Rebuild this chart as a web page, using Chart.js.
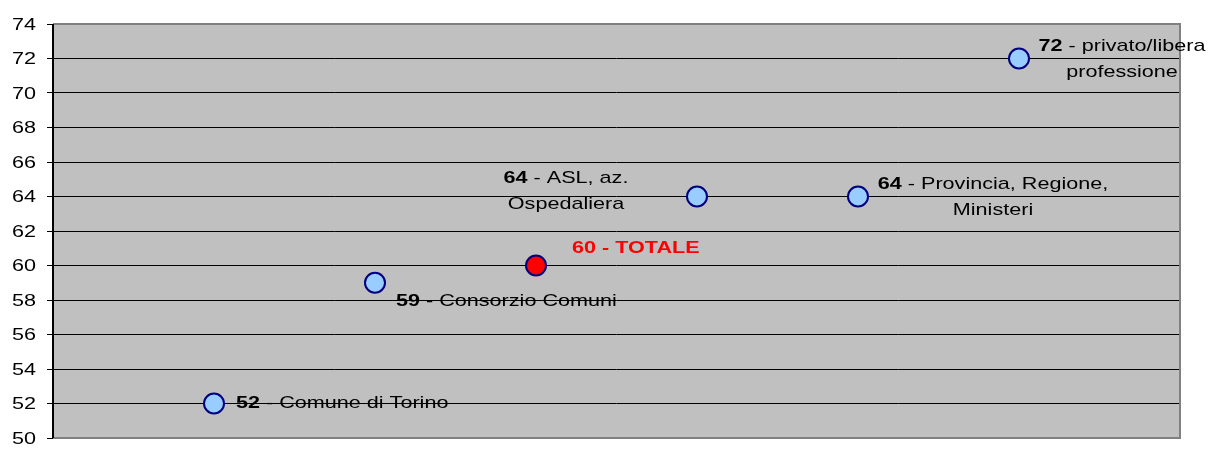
<!DOCTYPE html>
<html lang="it">
<head>
  <meta charset="UTF-8" />
  <title>Età media per ente</title>
  <script src="https://cdn.jsdelivr.net/npm/chart.js"></script>
  <style>
    html, body { margin: 0; padding: 0; background: #fff; }
  </style>
</head>
<body>
  <canvas id="ageChart" width="1208" height="450"></canvas>

  <script>
    // data
    const categories = [
      'Comune di Torino',
      'Consorzio Comuni',
      'TOTALE',
      'ASL, az.\nOspedaliera',
      'Provincia, Regione,\nMinisteri',
      'privato/libera\nprofessione'
    ];
    const values = [52, 59, 60, 64, 64, 72];
    const isTotal = [false, false, true, false, false, false];
    const yTicks = [50, 52, 54, 56, 58, 60, 62, 64, 66, 68, 70, 72, 74];

    // where each label sits relative to its point (px)
    const labelPlace = [
      { dx: 22, dy: 0, align: 'left' },
      { dx: 21, dy: 19, align: 'left' },
      { dx: 36, dy: -17, align: 'left' },
      { dx: -131, dy: -18, align: 'center' },
      { dx: 135, dy: -12, align: 'center' },
      { dx: 103, dy: -12, align: 'center' }
    ];

    const FONT = '"Liberation Sans", Arial, sans-serif';
    const SX = 1.27; // the original picture is stretched sideways

    // draw text stretched horizontally
    function wideText(ctx, text, x, y) {
      ctx.save();
      ctx.translate(x, y);
      ctx.scale(SX, 1);
      ctx.fillText(text, 0, 0);
      ctx.restore();
    }

    const plotFrame = {
      id: 'plotFrame',
      beforeDraw(chart) {
        const { ctx, chartArea: a } = chart;
        ctx.save();
        ctx.fillStyle = '#c0c0c0';
        ctx.fillRect(a.left, a.top, a.right - a.left, a.bottom - a.top);
        ctx.restore();
      },
      beforeDatasetsDraw(chart) {
        const { ctx, chartArea: a } = chart;
        ctx.save();
        ctx.strokeStyle = '#808080';
        ctx.lineWidth = 2;
        ctx.beginPath();
        ctx.moveTo(a.left, a.top);
        ctx.lineTo(a.right, a.top);
        ctx.lineTo(a.right, a.bottom);
        ctx.lineTo(a.left, a.bottom);
        ctx.stroke();
        ctx.strokeStyle = '#000';
        ctx.beginPath();
        ctx.moveTo(a.left, a.top);
        ctx.lineTo(a.left, a.bottom);
        ctx.stroke();

        // y tick labels, from the library's y scale
        const ys = chart.scales.y;
        ctx.fillStyle = '#000';
        ctx.font = '17px ' + FONT;
        ctx.textBaseline = 'middle';
        ctx.textAlign = 'left';
        ys.ticks.forEach(t => {
          const label = String(t.value);
          const w = ctx.measureText(label).width * SX;
          wideText(ctx, label, 36 - w, ys.getPixelForValue(t.value) + 1);
        });
        ctx.restore();
      }
    };

    const pointLabels = {
      id: 'pointLabels',
      afterDatasetsDraw(chart) {
        const { ctx } = chart;
        const meta = chart.getDatasetMeta(0);
        ctx.save();
        ctx.textBaseline = 'middle';
        ctx.textAlign = 'left';
        meta.data.forEach((pt, i) => {
          const p = labelPlace[i];
          const lines = categories[i].split('\n');
          const lh = 26;
          lines.forEach((line, j) => {
            const y = pt.y + p.dy + j * lh;
            let parts;
            if (isTotal[i]) {
              parts = [{ t: values[i] + ' - ' + line, bold: true }];
            } else if (j === 0) {
              parts = [{ t: String(values[i]), bold: true }, { t: ' - ' + line, bold: false }];
            } else {
              parts = [{ t: line, bold: false }];
            }
            let w = 0;
            parts.forEach(part => {
              ctx.font = (part.bold ? 'bold ' : '') + '17px ' + FONT;
              part.w = ctx.measureText(part.t).width * SX;
              w += part.w;
            });
            let x = pt.x + p.dx;
            if (p.align === 'center') x -= w / 2;
            ctx.fillStyle = isTotal[i] ? '#ff0000' : '#000';
            parts.forEach(part => {
              ctx.font = (part.bold ? 'bold ' : '') + '17px ' + FONT;
              wideText(ctx, part.t, x, y);
              x += part.w;
            });
          });
        });
        ctx.restore();
      }
    };

    new Chart(document.getElementById('ageChart'), {
      type: 'scatter',
      data: {
        datasets: [{
          data: values.map((v, i) => ({ x: i + 1, y: v })),
          pointRadius: 10,
          pointHoverRadius: 10,
          pointBorderWidth: 2,
          pointBorderColor: '#000080',
          pointBackgroundColor: isTotal.map(t => t ? '#ff0000' : '#99ccff')
        }]
      },
      options: {
        responsive: false,
        animation: false,
        layout: { padding: { top: 24, right: 28, bottom: 2, left: 0 } },
        plugins: {
          legend: { display: false },
          tooltip: { enabled: false }
        },
        scales: {
          x: {
            type: 'linear',
            min: 0,
            max: 7,
            display: false
          },
          y: {
            min: 50,
            max: 74,
            afterBuildTicks: axis => { axis.ticks = yTicks.map(v => ({ value: v })); },
            afterFit: axis => { axis.width = 53; },
            border: { display: false },
            grid: {
              color: '#000',
              lineWidth: 1,
              tickLength: 6
            },
            ticks: {
              color: 'rgba(0,0,0,0)',
              padding: 11,
              font: { family: FONT, size: 1 }
            }
          }
        }
      },
      plugins: [plotFrame, pointLabels]
    });
  </script>
</body>
</html>
